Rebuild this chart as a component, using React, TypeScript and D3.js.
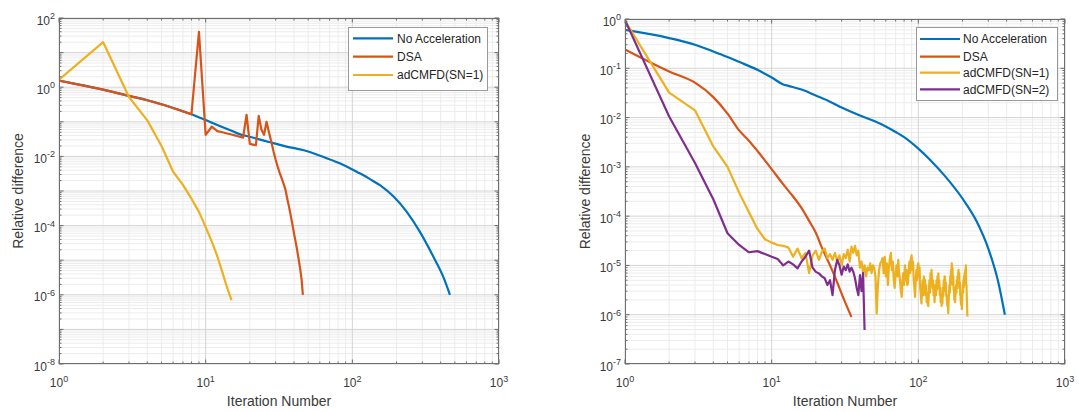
import React from 'react';
import * as d3 from 'd3';

type Pt = [number, number];

const FONT = '"Liberation Sans", Arial, Helvetica, sans-serif';
const COLOR_NOACC = '#0072BD';
const COLOR_DSA = '#D95319';
const COLOR_SN1 = '#EDB120';
const COLOR_SN2 = '#7E2F8E';

const seriesNames = ['No Acceleration', 'DSA', 'adCMFD(SN=1)', 'adCMFD(SN=2)'];

// ---------- Left panel data ----------
const leftNoAccel: Pt[] = [
  [1, 1.55], [2, 0.85], [3, 0.56], [4, 0.42], [5, 0.32], [6, 0.25], [8, 0.165], [10, 0.112],
  [12, 0.081], [15, 0.055], [17.6, 0.042], [20, 0.037], [27, 0.026], [35, 0.0195], [46, 0.0153],
  [63, 0.0098], [82, 0.0063], [100, 0.0042], [107, 0.0036], [120, 0.0028], [132, 0.0022],
  [155, 0.00145], [191, 6.9e-4], [235, 2.5e-4], [289, 6.6e-5], [357, 1.26e-5], [417, 3.3e-6],
  [463, 1.0e-6],
];

const leftDSA: Pt[] = [
  [1, 1.55], [2, 0.85], [3, 0.56], [4, 0.42], [5, 0.32], [6, 0.25], [7, 0.2], [8, 0.165],
  [9, 40], [10, 0.042], [11, 0.072], [12, 0.054], [13, 0.05], [14, 0.046], [15, 0.043],
  [16, 0.04], [17, 0.037], [18, 0.035], [19, 0.16], [20, 0.023], [21, 0.022], [22, 0.021],
  [23, 0.148], [24, 0.06], [25, 0.042], [26, 0.1], [27, 0.05], [28, 0.027], [29, 0.014],
  [30, 0.008], [31, 0.005], [32, 0.0033], [33, 0.0023], [34, 0.0016], [35, 0.0011],
  [36, 6e-4], [37, 3.5e-4], [38, 2e-4], [39, 1.1e-4], [40, 6e-5], [41, 3.5e-5], [42, 2e-5],
  [43, 1.1e-5], [44, 6e-6], [45, 3e-6], [46, 1e-6],
];

const leftSN1: Pt[] = [
  [1, 1.65], [2, 20], [3, 0.52], [4, 0.11], [5, 0.02], [6, 0.0036], [7, 0.0015], [8, 6e-4],
  [9, 2.5e-4], [10, 9e-5], [11, 3.5e-5], [12, 1.3e-5], [13, 4.5e-6], [14, 1.6e-6], [15, 7e-7],
];

// ---------- Right panel data ----------
const rightNoAccel: Pt[] = [
  [1, 0.6], [2, 0.41], [3, 0.3], [4, 0.22], [5, 0.17], [6, 0.135], [8, 0.093], [10, 0.065],
  [12, 0.047], [13, 0.044], [16, 0.037], [20, 0.028], [25, 0.021], [30, 0.016],
  [40, 0.011], [50, 0.0085], [60, 0.0066], [70, 0.0051], [80, 0.004], [100, 0.00234],
  [120, 0.0014], [150, 6.8e-4], [200, 2.28e-4], [250, 7.8e-5], [300, 2.2e-5], [350, 4.7e-6],
  [389, 1.0e-6],
];

const rightDSA: Pt[] = [
  [1, 0.24], [2, 0.086], [3, 0.051], [4, 0.026], [5, 0.012], [6, 0.0055], [7, 0.0034],
  [8, 0.0021], [10, 9e-4], [12, 4.4e-4], [14, 2.5e-4], [16, 1.45e-4], [18, 8e-5], [20, 4.6e-5],
  [22, 2.3e-5], [25, 1e-5], [28, 4.5e-6], [31, 2.1e-6], [35, 9e-7],
];

const rightSN1Head: Pt[] = [
  [1, 0.92], [2, 0.032], [3, 0.014], [4, 0.0026], [5, 0.001], [6, 3e-4], [7, 1.2e-4],
  [8, 5.5e-5], [9, 3.4e-5], [10, 2.9e-5], [11, 2.6e-5], [12, 2.5e-5],
];
// iterations 13..216, values in units of 1e-6
const rightSN1TailStart = 13;
const rightSN1TailMicro: number[] = [
  23, 15, 22, 14, 18, 7, 16, 20, 13, 19,
  22, 14, 17, 13, 18, 12, 16, 10, 17, 14,
  21, 12, 24, 18, 25, 16, 20, 9, 12, 7,
  10, 6, 9, 8, 11, 7, 10, 9, 6, 1.05,
  4, 8, 11, 12,
  14, 7, 15, 6, 11, 4, 9, 14, 18, 8,
  12, 5, 3.5, 7, 10, 6, 13, 7, 5, 3,
  2.3, 5, 7, 4, 10, 5, 8, 4, 4.4, 8,
  12, 7, 14, 16, 8, 12, 5, 3.5, 2.3, 5,
  8, 5, 10, 11, 6, 9, 3.5, 2.5, 1.7, 3,
  5, 2.5, 6, 3, 5.1, 2.5, 4, 1.8, 2.8, 1.6,
  1.5, 3, 5, 2.8, 7, 4, 8.1, 5, 3.5, 5,
  2.5, 4, 1.8, 2.8, 4, 2.5, 5, 3.2, 6, 4,
  6.9, 3.5, 5, 2.5, 3.5, 1.8, 2.5, 1.5, 2.5, 1.7,
  3.5, 2.4, 5, 3, 6, 5.9, 3.2, 4.5, 2.4, 2.5,
  1.7, 1.5, 1.8, 1.07, 2, 3, 4, 2.8, 6, 4,
  8, 5.5, 11, 6, 9, 4, 6, 3.2, 3.5, 2,
  3, 1.8, 2.5, 3, 4, 2.8, 5, 3.5, 6, 4.2,
  7, 8.1, 5, 7, 3.4, 4.5, 2.5, 2.5, 1.7, 1.6,
  1.8, 1.3, 2, 3, 4, 2.8, 5, 3.6, 6, 4,
  7, 5, 8.1, 5, 10, 4, 4, 2.2, 1.5, 0.92,
];

const rightSN2: Pt[] = [
  [1, 0.95], [2, 0.0105], [3, 0.0012], [4, 2.2e-4], [5, 4.5e-5], [6, 2.6e-5], [7, 1.85e-5],
  [8, 1.95e-5], [9, 1.7e-5], [10, 1.5e-5], [11, 1.35e-5], [12, 1.0e-5], [13, 1.2e-5],
  [14, 1.05e-5], [15, 8.7e-6], [16, 1.2e-5], [17, 1.5e-5], [18, 2.0e-5], [19, 9e-6],
  [20, 7.4e-6], [21, 6.9e-6], [22, 6e-6], [23, 5.5e-6], [24, 4e-6], [25, 5e-6], [26, 2.5e-6],
  [27, 8e-6], [28, 1.3e-5], [29, 1e-5], [30, 6.5e-6], [31, 9.5e-6], [32, 8e-6], [33, 1.05e-5],
  [34, 7.5e-6], [35, 9e-6], [36, 7.5e-6], [37, 5.5e-6], [38, 3.5e-6], [39, 2.5e-6],
  [40, 6.4e-6], [41, 3e-6], [42, 7e-6], [43, 4.9e-7],
];

const xTickExps = [0, 1, 2, 3];
const leftYTickExps = [-8, -6, -4, -2, 0, 2];
const rightYTickExps = [-7, -6, -5, -4, -3, -2, -1, 0];

const axisLabelX = 'Iteration Number';
const axisLabelY = 'Relative difference';

interface Series { name: string; color: string; data: Pt[]; smooth?: boolean }

interface LegendCfg { x: number; y: number; w: number; h: number; rows: number[]; lx0: number; lx1: number; tx: number }

interface PanelCfg {
  left: number; right: number; top: number; bottom: number;
  yMinExp: number; yMaxExp: number; yTicks: number[];
  series: Series[]; legend: LegendCfg; yLabelX: number;
}

const supText = (e: number) => (e < 0 ? '-' + Math.abs(e) : String(e));

function Panel({ cfg, id }: { cfg: PanelCfg; id: string }) {
  const { left, right, top, bottom } = cfg;
  const x = d3.scaleLog().domain([1, 1000]).range([left, right]);
  const y = d3.scaleLog().domain([Math.pow(10, cfg.yMinExp), Math.pow(10, cfg.yMaxExp)]).range([bottom, top]);

  const xMinor: number[] = [];
  for (let k = 0; k < 3; k++) for (let m = 2; m <= 9; m++) xMinor.push(m * Math.pow(10, k));
  const yMinor: number[] = [];
  for (let k = cfg.yMinExp; k < cfg.yMaxExp; k++) for (let m = 2; m <= 9; m++) yMinor.push(m * Math.pow(10, k));
  const xMajor = xTickExps.map((e) => Math.pow(10, e));
  const yMajorAll: number[] = [];
  for (let k = cfg.yMinExp; k <= cfg.yMaxExp; k++) yMajorAll.push(Math.pow(10, k));

  const lineGen = (smooth?: boolean) =>
    d3.line<Pt>().x((d) => x(d[0])).y((d) => y(d[1])).curve(smooth ? d3.curveMonotoneX : d3.curveLinear);

  const minorColor = '#ececec';
  const majorColor = '#d4d4d4';
  const axisColor = '#6e6e6e';
  const textColor = '#3a3a3a';
  const majLen = 4.5;
  const minLen = 2.5;

  return (
    <g>
      <defs>
        <clipPath id={id}>
          <rect x={left} y={top} width={right - left} height={bottom - top} />
        </clipPath>
      </defs>
      <rect x={left} y={top} width={right - left} height={bottom - top} fill="#ffffff" />
      {xMinor.map((v, i) => (
        <line key={'xm' + i} x1={x(v)} x2={x(v)} y1={top} y2={bottom} stroke={minorColor} strokeWidth={1} />
      ))}
      {yMinor.map((v, i) => (
        <line key={'ym' + i} x1={left} x2={right} y1={y(v)} y2={y(v)} stroke={minorColor} strokeWidth={1} />
      ))}
      {xMajor.map((v, i) => (
        <line key={'xM' + i} x1={x(v)} x2={x(v)} y1={top} y2={bottom} stroke={majorColor} strokeWidth={1} />
      ))}
      {yMajorAll.map((v, i) => (
        <line key={'yM' + i} x1={left} x2={right} y1={y(v)} y2={y(v)} stroke={majorColor} strokeWidth={1} />
      ))}
      <g clipPath={`url(#${id})`}>
        {cfg.series.map((s) => (
          <path key={s.name} d={lineGen(s.smooth)(s.data) || ''} fill="none" stroke={s.color} strokeWidth={2.2}
            strokeLinejoin="round" strokeLinecap="butt" />
        ))}
      </g>
      {xMinor.map((v, i) => (
        <g key={'xtm' + i}>
          <line x1={x(v)} x2={x(v)} y1={bottom} y2={bottom - minLen} stroke={axisColor} />
          <line x1={x(v)} x2={x(v)} y1={top} y2={top + minLen} stroke={axisColor} />
        </g>
      ))}
      {xMajor.map((v, i) => (
        <g key={'xtM' + i}>
          <line x1={x(v)} x2={x(v)} y1={bottom} y2={bottom - majLen} stroke={axisColor} />
          <line x1={x(v)} x2={x(v)} y1={top} y2={top + majLen} stroke={axisColor} />
        </g>
      ))}
      {yMinor.map((v, i) => (
        <g key={'ytm' + i}>
          <line x1={left} x2={left + minLen} y1={y(v)} y2={y(v)} stroke={axisColor} />
          <line x1={right} x2={right - minLen} y1={y(v)} y2={y(v)} stroke={axisColor} />
        </g>
      ))}
      {yMajorAll.map((v, i) => (
        <g key={'ytM' + i}>
          <line x1={left} x2={left + majLen} y1={y(v)} y2={y(v)} stroke={axisColor} />
          <line x1={right} x2={right - majLen} y1={y(v)} y2={y(v)} stroke={axisColor} />
        </g>
      ))}
      <rect x={left + 0.5} y={top + 0.5} width={right - left - 1} height={bottom - top - 1} fill="none" stroke={axisColor} strokeWidth={1} />
      {xTickExps.map((e) => (
        <text key={'xl' + e} x={x(Math.pow(10, e))} y={bottom + 23} textAnchor="middle" fontFamily={FONT} fontSize={12} fill={textColor}>
          10<tspan fontSize={9} dy={-5.5}>{supText(e)}</tspan>
        </text>
      ))}
      {cfg.yTicks.map((e) => (
        <text key={'yl' + e} x={left - 4} y={y(Math.pow(10, e)) + 6.5} textAnchor="end" fontFamily={FONT} fontSize={12} fill={textColor}>
          10<tspan fontSize={9} dy={-5.5}>{supText(e)}</tspan>
        </text>
      ))}
      <text x={(left + right) / 2} y={406} textAnchor="middle" fontFamily={FONT} fontSize={14} fill={textColor}>
        {axisLabelX}
      </text>
      <text transform={`translate(${cfg.yLabelX},${(top + bottom) / 2}) rotate(-90)`} textAnchor="middle" fontFamily={FONT} fontSize={14} fill={textColor}>
        {axisLabelY}
      </text>
      <rect x={cfg.legend.x + 0.5} y={cfg.legend.y + 0.5} width={cfg.legend.w} height={cfg.legend.h} fill="#ffffff" stroke="#9a9a9a" strokeWidth={1} />
      {cfg.series.map((s, i) => (
        <g key={'lg' + i}>
          <line x1={cfg.legend.lx0} x2={cfg.legend.lx1} y1={cfg.legend.rows[i]} y2={cfg.legend.rows[i]} stroke={s.color} strokeWidth={2.2} />
          <text x={cfg.legend.tx} y={cfg.legend.rows[i] + 4.3} fontFamily={FONT} fontSize={12} fill="#262626">
            {s.name}
          </text>
        </g>
      ))}
    </g>
  );
}

export default function App() {
  const rightSN1: Pt[] = rightSN1Head.concat(
    rightSN1TailMicro.map((v, i) => [rightSN1TailStart + i, v * 1e-6] as Pt)
  );

  const leftCfg: PanelCfg = {
    left: 59, right: 499, top: 18, bottom: 364,
    yMinExp: -8, yMaxExp: 2, yTicks: leftYTickExps,
    series: [
      { name: seriesNames[0], color: COLOR_NOACC, data: leftNoAccel, smooth: true },
      { name: seriesNames[1], color: COLOR_DSA, data: leftDSA },
      { name: seriesNames[2], color: COLOR_SN1, data: leftSN1 },
    ],
    legend: { x: 348, y: 27, w: 139, h: 63, rows: [38.3, 56.7, 75], lx0: 353, lx1: 393, tx: 397 },
    yLabelX: 23,
  };

  const rightCfg: PanelCfg = {
    left: 625, right: 1065, top: 19, bottom: 364,
    yMinExp: -7, yMaxExp: 0, yTicks: rightYTickExps,
    series: [
      { name: seriesNames[0], color: COLOR_NOACC, data: rightNoAccel, smooth: true },
      { name: seriesNames[1], color: COLOR_DSA, data: rightDSA, smooth: true },
      { name: seriesNames[2], color: COLOR_SN1, data: rightSN1 },
      { name: seriesNames[3], color: COLOR_SN2, data: rightSN2 },
    ],
    legend: { x: 916, y: 27, w: 141, h: 73, rows: [39, 56.7, 72.7, 89.3], lx0: 920, lx1: 960, tx: 963 },
    yLabelX: 590,
  };

  return (
    <svg width={1079} height={412} viewBox="0 0 1079 412"
      style={{ position: 'absolute', left: 0, top: 0, background: '#ffffff' }}>
      <rect x={0} y={0} width={1079} height={412} fill="#ffffff" />
      <Panel cfg={leftCfg} id="clipL" />
      <Panel cfg={rightCfg} id="clipR" />
    </svg>
  );
}
